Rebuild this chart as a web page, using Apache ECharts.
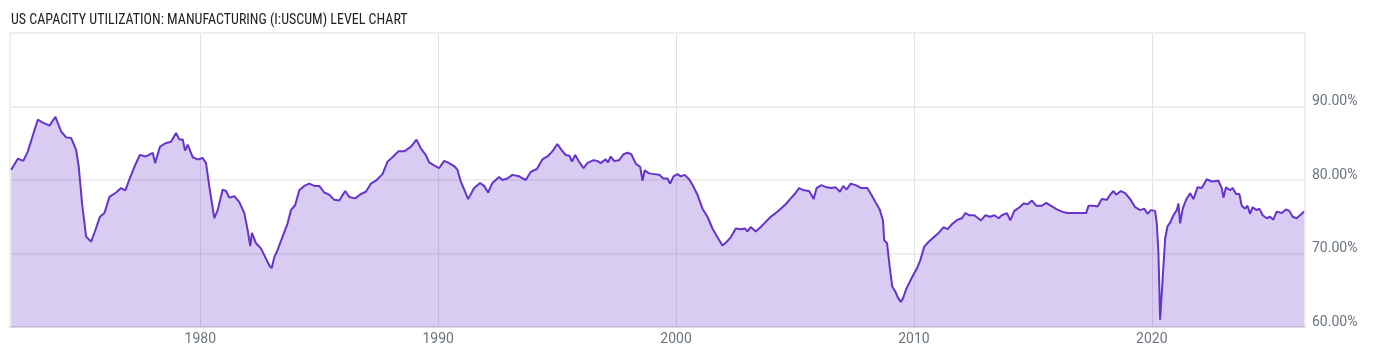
<!DOCTYPE html>
<html>
<head>
<meta charset="utf-8">
<script src="https://cdn.jsdelivr.net/npm/echarts@6/dist/echarts.min.js"></script>
<style>
  html, body { margin: 0; padding: 0; background: #fff; }
  #chart { width: 1400px; height: 357px; }
</style>
</head>
<body>
<div id="chart"></div>
<script>
// Title and axis labels
const chartTitle = 'US CAPACITY UTILIZATION: MANUFACTURING (I:USCUM) LEVEL CHART';
const yearTicks = [1980, 1990, 2000, 2010, 2020];
const pctTicks = [60, 70, 80, 90];

// [decimal year, capacity utilization %]
const data1970s = [
  [1972.05, 81.4], [1972.33, 82.9], [1972.56, 82.6], [1972.75, 83.9], [1973.03, 86.8],
  [1973.17, 88.2], [1973.38, 87.8], [1973.66, 87.4], [1973.91, 88.6], [1974.15, 86.6],
  [1974.36, 85.8], [1974.57, 85.7], [1974.78, 84.1], [1974.89, 81.8], [1975.03, 76.8],
  [1975.2, 72.3], [1975.41, 71.6], [1975.59, 73.2], [1975.78, 75.0], [1975.97, 75.5],
  [1976.18, 77.7], [1976.46, 78.3], [1976.67, 78.9], [1976.85, 78.6], [1977.02, 80.1],
  [1977.23, 81.8], [1977.46, 83.4], [1977.72, 83.2], [1978.0, 83.7], [1978.1, 82.3],
  [1978.3, 84.5], [1978.53, 85.0], [1978.77, 85.2], [1978.98, 86.4], [1979.12, 85.5],
  [1979.26, 85.5], [1979.36, 84.0], [1979.47, 84.8], [1979.68, 83.1], [1979.89, 82.8]
];
const data1980s = [
  [1980.1, 83.0], [1980.24, 82.3], [1980.38, 79.1], [1980.59, 74.8], [1980.73, 75.9],
  [1980.94, 78.7], [1981.08, 78.5], [1981.22, 77.6], [1981.43, 77.8], [1981.64, 77.0],
  [1981.85, 75.5], [1981.99, 73.2], [1982.1, 71.0], [1982.17, 72.8], [1982.34, 71.4],
  [1982.55, 70.7], [1982.73, 69.5], [1982.9, 68.4], [1983.0, 68.0], [1983.11, 69.5],
  [1983.25, 70.5], [1983.46, 72.3], [1983.67, 74.1], [1983.81, 75.9], [1983.99, 76.6],
  [1984.16, 78.6], [1984.37, 79.2], [1984.58, 79.5], [1984.79, 79.2], [1985.0, 79.2],
  [1985.21, 78.3], [1985.42, 78.0], [1985.63, 77.3], [1985.84, 77.2], [1986.09, 78.5],
  [1986.26, 77.7], [1986.51, 77.5], [1986.75, 78.1], [1986.96, 78.4], [1987.17, 79.5],
  [1987.38, 79.9], [1987.66, 80.8], [1987.87, 82.5], [1988.08, 83.1], [1988.33, 83.9],
  [1988.57, 83.9], [1988.85, 84.5], [1989.09, 85.5], [1989.27, 84.3], [1989.48, 83.4],
  [1989.62, 82.4], [1989.83, 82.0]
];
const data1990s = [
  [1990.04, 81.6], [1990.25, 82.6], [1990.46, 82.3], [1990.67, 81.9], [1990.81, 81.4],
  [1990.95, 79.8], [1991.26, 77.4], [1991.51, 78.9], [1991.76, 79.6], [1991.93, 79.2],
  [1992.1, 78.3], [1992.28, 79.6], [1992.56, 80.4], [1992.7, 80.0], [1992.91, 80.2],
  [1993.12, 80.7], [1993.4, 80.5], [1993.68, 80.0], [1993.89, 81.1], [1994.15, 81.5],
  [1994.38, 82.8], [1994.59, 83.2], [1994.8, 83.9], [1995.01, 84.9], [1995.18, 84.1],
  [1995.36, 83.4], [1995.52, 83.3], [1995.62, 82.5], [1995.76, 83.4], [1995.92, 82.5],
  [1996.11, 81.6], [1996.27, 82.3], [1996.53, 82.7], [1996.69, 82.6], [1996.83, 82.3],
  [1997.04, 82.8], [1997.14, 82.4], [1997.25, 83.2], [1997.39, 82.6], [1997.61, 82.7],
  [1997.79, 83.5], [1997.96, 83.7], [1998.12, 83.5], [1998.31, 82.2], [1998.49, 81.8],
  [1998.59, 79.9], [1998.68, 81.3], [1998.87, 80.9], [1999.08, 80.8], [1999.29, 80.7],
  [1999.47, 80.2], [1999.64, 80.2], [1999.75, 79.5], [1999.89, 80.5]
];
const data2000s = [
  [2000.06, 80.8], [2000.2, 80.5], [2000.36, 80.7], [2000.55, 80.1], [2000.73, 79.1],
  [2000.9, 78.0], [2001.11, 76.1], [2001.32, 75.0], [2001.53, 73.4], [2001.74, 72.2],
  [2001.95, 71.1], [2002.13, 71.6], [2002.3, 72.2], [2002.51, 73.4], [2002.72, 73.3],
  [2002.89, 73.4], [2003.0, 73.0], [2003.14, 73.6], [2003.35, 73.0], [2003.56, 73.6],
  [2003.77, 74.3], [2003.98, 75.0], [2004.19, 75.5], [2004.4, 76.1], [2004.61, 76.7],
  [2004.82, 77.5], [2004.99, 78.1], [2005.17, 78.9], [2005.38, 78.6], [2005.59, 78.5],
  [2005.69, 78.0], [2005.78, 77.4], [2005.91, 78.9], [2006.11, 79.3], [2006.33, 79.0],
  [2006.53, 78.9], [2006.71, 79.0], [2006.89, 78.4], [2007.03, 79.2], [2007.17, 78.7],
  [2007.34, 79.5], [2007.55, 79.3], [2007.79, 78.9], [2008.04, 78.9], [2008.21, 78.0],
  [2008.38, 77.0], [2008.56, 76.0], [2008.7, 74.5], [2008.75, 71.8], [2008.87, 71.4],
  [2008.98, 68.2], [2009.09, 65.5], [2009.22, 64.8], [2009.31, 64.1], [2009.45, 63.4],
  [2009.54, 63.9], [2009.68, 65.2], [2009.82, 66.1], [2009.96, 67.0]
];
const data2010s = [
  [2010.13, 68.0], [2010.27, 69.1], [2010.43, 70.9], [2010.62, 71.6], [2010.83, 72.2],
  [2011.04, 72.8], [2011.25, 73.6], [2011.41, 73.3], [2011.6, 74.0], [2011.83, 74.6],
  [2012.02, 74.8], [2012.16, 75.5], [2012.34, 75.2], [2012.54, 75.2], [2012.82, 74.5],
  [2013.0, 75.2], [2013.21, 75.0], [2013.38, 75.2], [2013.56, 74.8], [2013.7, 75.2],
  [2013.91, 75.5], [2014.05, 74.5], [2014.22, 75.8], [2014.44, 76.3], [2014.61, 76.8],
  [2014.78, 76.7], [2014.96, 77.2], [2015.14, 76.5], [2015.38, 76.5], [2015.56, 76.9],
  [2015.8, 76.4], [2016.01, 76.0], [2016.22, 75.7], [2016.43, 75.5], [2016.64, 75.5],
  [2016.85, 75.5], [2017.06, 75.5], [2017.24, 75.5], [2017.34, 76.5], [2017.55, 76.5],
  [2017.72, 76.4], [2017.9, 77.4], [2018.11, 77.3], [2018.25, 78.0], [2018.39, 78.5],
  [2018.5, 78.0], [2018.7, 78.5], [2018.88, 78.2], [2019.09, 77.4], [2019.3, 76.3],
  [2019.51, 75.9], [2019.68, 76.1], [2019.82, 75.4], [2019.96, 75.9]
];
const data2020s = [
  [2020.14, 75.8], [2020.21, 74.1], [2020.28, 70.0], [2020.35, 61.0], [2020.46, 66.8],
  [2020.56, 72.0], [2020.66, 73.7], [2020.77, 74.2], [2020.91, 75.2], [2021.05, 75.9],
  [2021.12, 76.8], [2021.19, 74.1], [2021.3, 76.1], [2021.44, 77.3], [2021.61, 78.2],
  [2021.75, 77.4], [2021.92, 79.0], [2022.1, 78.9], [2022.31, 80.1], [2022.52, 79.8],
  [2022.8, 79.9], [2022.94, 78.9], [2023.01, 77.6], [2023.12, 79.0], [2023.29, 78.6],
  [2023.4, 78.9], [2023.54, 78.1], [2023.68, 78.1], [2023.78, 76.5], [2023.92, 76.1],
  [2024.02, 76.5], [2024.13, 75.4], [2024.24, 76.3], [2024.41, 75.9], [2024.52, 76.1],
  [2024.66, 75.2], [2024.83, 74.8], [2024.97, 75.0], [2025.11, 74.6], [2025.25, 75.7],
  [2025.46, 75.5], [2025.64, 76.0], [2025.78, 75.8], [2025.92, 75.0], [2026.09, 74.8],
  [2026.23, 75.2], [2026.4, 75.7]
];

const seriesData = [].concat(data1970s, data1980s, data1990s, data2000s, data2010s, data2020s);

const chart = echarts.init(document.getElementById('chart'), null, { renderer: 'canvas' });
const labelFont = "Roboto, 'Noto Sans', sans-serif";
chart.setOption({
  animation: false,
  backgroundColor: '#ffffff',
  title: {
    text: chartTitle,
    left: 6,
    top: 8,
    textStyle: {
      fontFamily: "'Roboto Condensed', 'Liberation Sans Narrow', 'Arial Narrow', Roboto, sans-serif",
      fontSize: 14,
      fontWeight: 'normal',
      color: '#222222'
    }
  },
  grid: {
    left: 10,
    right: 95,
    top: 33,
    bottom: 30,
    show: true,
    borderColor: '#dddddd',
    borderWidth: 1
  },
  xAxis: {
    type: 'value',
    min: 1972.0,
    max: 2026.44,
    axisLine: { show: true, lineStyle: { color: '#dcdcdc', width: 2 } },
    axisTick: { show: false, customValues: yearTicks },
    axisLabel: {
      customValues: yearTicks,
      formatter: (v) => String(Math.round(v)),
      color: '#6b7480',
      fontFamily: labelFont,
      fontSize: 14,
      margin: 5
    },
    splitLine: { show: true, lineStyle: { color: '#e3e3e3', width: 1 } }
  },
  yAxis: {
    type: 'value',
    position: 'right',
    min: 60,
    max: 100,
    interval: 10,
    axisLine: { show: false },
    axisTick: { show: false },
    axisLabel: {
      showMaxLabel: false,
      formatter: (v) => pctTicks.indexOf(v) >= 0 ? v.toFixed(2) + '%' : '',
      verticalAlign: 'bottom',
      color: '#6b7480',
      fontFamily: labelFont,
      fontSize: 14,
      margin: 7,
      padding: [0, 0, -2, 0]
    },
    splitLine: { show: true, lineStyle: { color: '#eeeeee', width: 2 } }
  },
  series: [{
    type: 'line',
    data: seriesData,
    showSymbol: false,
    smooth: false,
    lineStyle: { color: '#6633cc', width: 2 },
    itemStyle: { color: '#6633cc' },
    areaStyle: { color: '#6633cc', opacity: 0.25, origin: 'start' }
  }]
});
</script>
</body>
</html>
